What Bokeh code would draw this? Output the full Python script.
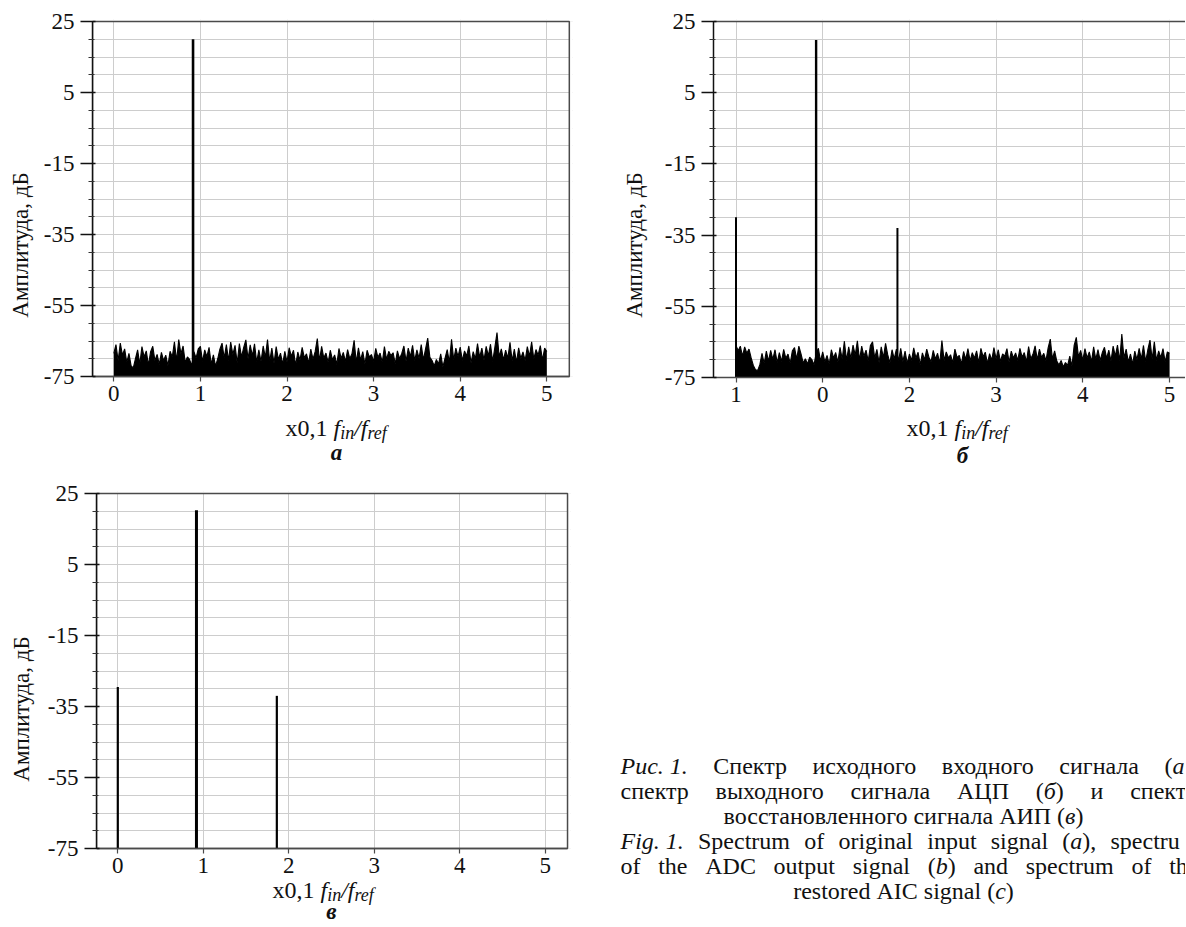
import os, glob
from bokeh.plotting import figure
from bokeh.layouts import row, column
from bokeh.models import Range1d, FixedTicker, Label, ColumnDataSource
from bokeh.embed import file_html
from bokeh.resources import INLINE

FONT = "Liberation Serif"

# ---------------- data ----------------
y_ticks = [-75, -55, -35, -15, 5, 25]
y_tick_labels = ["-75", "-55", "-35", "-15", "5", "25"]
y_minor = [-70, -65, -60, -50, -45, -40, -30, -25, -20, -10, -5, 0, 10, 15, 20]
x_ticks = [0, 1, 2, 3, 4, 5]
x_labels_a = ["0", "1", "2", "3", "4", "5"]
x_labels_b = ["1", "0", "2", "3", "4", "5"]
x_labels_c = ["0", "1", "2", "3", "4", "5"]
y_label = "Амплитуда, дБ"
floor_db = -75
top_db = 25
noise_step = 0.025

noise_a = [
    -68.5, -66.0, -70.5, -65.6, -69.0, -67.2, -71.0, -68.5, -72.0, -72.6,
    -70.0, -67.5, -71.5, -66.6, -69.5, -67.8, -71.8, -68.0, -66.5, -70.5,
    -68.8, -71.6, -68.2, -70.5, -69.0, -71.9, -67.9, -69.5, -65.2, -70.6,
    -64.6, -68.6, -66.4, -71.0, -69.5, -70.2, -72.0, -68.0, -69.8, -67.2,
    -66.5, -70.8, -67.5, -69.4, -66.8, -71.5, -68.9, -72.1, -70.0, -67.3,
    -65.6, -69.8, -66.0, -70.5, -65.3, -68.8, -66.2, -71.2, -65.7, -69.5,
    -66.8, -64.7, -70.0, -66.1, -69.2, -65.8, -71.0, -67.5, -70.8, -66.4,
    -69.6, -64.6, -70.7, -67.0, -71.3, -66.6, -70.2, -68.4, -71.5, -67.9,
    -70.9, -66.9, -69.3, -67.6, -71.8, -68.1, -70.4, -66.8, -69.7, -68.6,
    -71.2, -67.3, -70.1, -68.0, -64.3, -70.6, -66.5, -69.8, -68.4, -71.0,
    -67.6, -70.3, -68.9, -71.6, -67.1, -69.9, -68.2, -70.8, -67.4, -70.0,
    -68.6, -64.8, -71.0, -66.9, -70.4, -68.0, -71.5, -67.6, -69.5, -68.8,
    -70.8, -67.1, -69.6, -68.4, -71.0, -66.6, -70.2, -67.9, -69.1, -68.3,
    -71.4, -67.8, -70.0, -68.5, -66.4, -70.7, -67.0, -69.4, -66.2, -70.5,
    -67.5, -69.9, -66.0, -70.3, -67.2, -64.2, -69.6, -70.5, -72.0, -70.2,
    -71.5, -68.6, -72.3, -69.8, -67.4, -71.0, -64.5, -70.3, -67.0, -69.4,
    -66.7, -70.5, -67.8, -69.2, -66.4, -71.2, -68.0, -70.0, -65.7, -69.6,
    -67.0, -70.4, -66.5, -69.2, -65.9, -70.8, -66.8, -62.6, -69.4, -67.2,
    -70.3, -67.6, -69.8, -65.4, -70.6, -67.3, -71.0, -66.9, -69.9, -68.1,
    -70.5, -66.6, -69.3, -65.2, -70.1, -67.4, -69.0, -66.3, -70.4, -67.0,
    -68.0,
]

noise_b = [
    -66.0, -67.5, -66.2, -69.0, -66.4, -68.2, -67.0, -69.5, -71.6, -72.8,
    -73.0, -71.4, -68.2, -71.0, -67.6, -70.4, -67.4, -69.9, -67.2, -70.8,
    -68.0, -70.5, -67.1, -69.6, -68.4, -71.0, -67.5, -66.6, -69.8, -66.2,
    -68.4, -70.9, -69.7, -71.2, -69.3, -70.0, -71.4, -68.2, -66.8, -70.4,
    -67.8, -70.6, -68.8, -71.3, -67.2, -69.5, -68.0, -70.7, -66.5, -69.8,
    -64.8, -70.2, -66.4, -69.6, -65.9, -68.7, -64.7, -70.1, -66.2, -69.0,
    -67.3, -70.4, -66.0, -65.0, -69.5, -67.1, -70.8, -66.4, -69.4, -65.4,
    -68.6, -70.9, -67.2, -69.8, -67.0, -70.3, -66.8, -70.5, -67.6, -71.0,
    -68.4, -70.2, -66.7, -69.5, -67.9, -71.4, -68.1, -70.0, -67.0, -69.3,
    -70.6, -67.4, -69.8, -68.2, -71.0, -64.6, -70.2, -67.8, -69.5, -68.6,
    -70.9, -67.0, -69.4, -68.8, -71.2, -67.7, -69.9, -66.9, -70.3, -68.0,
    -69.6, -67.5, -70.8, -66.8, -69.2, -67.9, -71.0, -68.3, -70.1, -66.6,
    -69.8, -67.2, -70.5, -68.4, -69.0, -66.9, -70.7, -67.6, -69.5, -68.1,
    -70.2, -66.8, -69.3, -68.0, -70.6, -66.3, -69.7, -68.5, -66.1, -70.0,
    -67.0, -69.4, -68.2, -70.3, -66.7, -64.2, -69.8, -67.5, -70.4, -71.5,
    -70.2, -72.0, -70.8, -71.6, -69.0, -71.8, -66.0, -63.7, -69.2, -67.4,
    -70.1, -66.9, -69.5, -67.8, -70.6, -66.4, -69.9, -67.2, -70.2, -68.0,
    -66.5, -69.6, -67.3, -70.4, -66.2, -69.0, -65.9, -70.3, -62.8, -69.5,
    -67.0, -70.6, -68.4, -71.2, -67.6, -70.0, -66.8, -69.8, -66.0, -70.5,
    -67.2, -64.5, -69.9, -65.0, -70.2, -67.5, -69.4, -66.9, -70.6, -67.8,
    -68.2,
]

peaks_a_x = [0.915]
peaks_a_y = [20.0]
peaks_b_x = [0.0, 0.924, 1.862]
peaks_b_y = [-30.0, 19.8, -33.0]
peaks_c_x = [0.0, 0.92, 1.86]
peaks_c_y = [-29.5, 20.3, -32.0]

caption_lines = [
    ["*Рис. 1.*", "Спектр", "исходного", "входного", "сигнала", "(*а*),"],
    ["спектр", "выходного", "сигнала", "АЦП", "(*б*)", "и", "спектр"],
    ["восстановленного", "сигнала", "АИП", "(*в*)"],
    ["*Fig. 1.*", "Spectrum", "of", "original", "input", "signal", "(*a*),", "spectrum"],
    ["of", "the", "ADC", "output", "signal", "(*b*)", "and", "spectrum", "of", "the"],
    ["restored", "AIC", "signal", "(*c*)"],
]
caption_visible_tail = ["(*а*", "спект", None, "spectru", "th", None]
caption_justified = [True, True, False, True, True, False]

# ---------------- layout parameters (pixels) ----------------
TICK_SIZE = 23
LABEL_SIZE = 23
TITLE_SIZE, SUB_SIZE = 24, 18
CAP_SIZE = 24
CAP_L, CAP_R, CAP_CENTER = 620, 1198, 903
CAP_BASE0, CAP_STEP = 765, 25

# ---------------- text measuring ----------------
_FONT_FILES = {"normal": "LiberationSerif-Regular.ttf", "italic": "LiberationSerif-Italic.ttf",
               "bold": "LiberationSerif-Bold.ttf", "bold italic": "LiberationSerif-BoldItalic.ttf"}
_font_cache = {}


def _font(style, size):
    key = (style, size)
    if key in _font_cache:
        return _font_cache[key]
    f = None
    try:
        from PIL import ImageFont
        for d in ("/usr/share/fonts", "/usr/local/share/fonts",
                  os.path.expanduser("~/.fonts"), os.path.expanduser("~/.local/share/fonts")):
            hits = glob.glob(os.path.join(d, "**", _FONT_FILES[style]), recursive=True)
            if hits:
                f = ImageFont.truetype(hits[0], size)
                break
    except Exception:
        f = None
    _font_cache[key] = f
    return f


def tw(text, size, style="normal"):
    f = _font(style, size)
    if f is not None:
        try:
            return f.getlength(text)
        except Exception:
            pass
    return 0.47 * size * len(text)


def lab(p, x, y, text, size, style="normal", align="left", color="#111111"):
    p.add_layout(Label(x=x, y=y, text=text, text_font=FONT, text_font_size=f"{size}px",
                       text_font_style=style, text_align=align, text_baseline="alphabetic",
                       text_color=color))


# ---------------- panels ----------------
GRID = "#cdcdcd"
EDGE = "#4a4a4a"
INK = "#111111"


class Geo:
    def __init__(self, fig_x, fig_y, width, height, fl, fr, ft, x_at0, unit, y_bot_px, ppd):
        self.fig_x, self.fig_y, self.width, self.height = fig_x, fig_y, width, height
        self.fl, self.fr, self.ft = fl, fr, ft
        self.fb = fig_y + height
        self.x_at0, self.unit, self.y_bot_px, self.ppd = x_at0, unit, y_bot_px, ppd
        self.x0 = (fl - x_at0) / unit
        self.x1 = (fr - x_at0) / unit
        self.y_top = floor_db + (y_bot_px - ft) / ppd
        self.y_bottom = floor_db - (self.fb - y_bot_px) / ppd

    def data(self, px, py):
        return (px - self.x_at0) / self.unit, floor_db + (self.y_bot_px - py) / self.ppd


def make_panel(g, tick_labels, ylab_standoff, box_right):
    p = figure(width=g.width, height=g.height,
               x_range=Range1d(g.x0, g.x1), y_range=Range1d(g.y_bottom, g.y_top),
               output_backend="svg", toolbar_location=None,
               min_border_left=g.fl - g.fig_x, min_border_right=g.fig_x + g.width - g.fr,
               min_border_top=g.ft - g.fig_y, min_border_bottom=0)
    p.background_fill_color = "white"
    p.border_fill_color = "white"
    p.outline_line_color = None

    ya = p.yaxis[0]
    ya.ticker = FixedTicker(ticks=y_ticks, minor_ticks=y_minor)
    ya.major_label_overrides = {t: l for t, l in zip(y_ticks, y_tick_labels)}
    ya.bounds = (floor_db, top_db)
    ya.axis_line_color = INK
    ya.axis_line_width = 1.5
    ya.major_tick_out = 12
    ya.major_tick_in = 3
    ya.major_tick_line_color = INK
    ya.major_tick_line_width = 1.5
    ya.minor_tick_out = 4
    ya.minor_tick_in = 2
    ya.minor_tick_line_color = "#333333"
    ya.minor_tick_line_width = 1.2
    ya.major_label_text_font = FONT
    ya.major_label_text_font_size = f"{TICK_SIZE}px"
    ya.major_label_text_color = INK
    ya.major_label_standoff = 6
    ya.axis_label = y_label
    ya.axis_label_text_font = FONT
    ya.axis_label_text_font_size = f"{LABEL_SIZE}px"
    ya.axis_label_text_font_style = "normal"
    ya.axis_label_text_color = INK
    ya.axis_label_standoff = ylab_standoff

    xa = p.xaxis[0]
    xa.fixed_location = floor_db
    xa.ticker = FixedTicker(ticks=x_ticks)
    xa.major_label_overrides = {t: l for t, l in zip(x_ticks, tick_labels)}
    xa.bounds = (g.x0, box_right if box_right is not None else g.x1)
    xa.axis_line_color = EDGE
    xa.axis_line_width = 1.5
    xa.major_tick_out = 5
    xa.major_tick_in = 0
    xa.major_tick_line_color = EDGE
    xa.major_tick_line_width = 1.2
    xa.minor_tick_line_color = None
    xa.major_label_text_font = FONT
    xa.major_label_text_font_size = f"{TICK_SIZE}px"
    xa.major_label_text_color = INK
    xa.major_label_standoff = 4

    p.xgrid.ticker = FixedTicker(ticks=x_ticks)
    p.ygrid.ticker = FixedTicker(ticks=y_ticks, minor_ticks=y_minor)
    for gr in (p.xgrid[0], p.ygrid[0]):
        gr.grid_line_color = GRID
        gr.grid_line_width = 1
    p.ygrid[0].minor_grid_line_color = GRID
    p.ygrid[0].minor_grid_line_width = 1

    # white bands outside the plotting box (frame is extended to host the x title)
    p.quad(left=[g.x0], right=[g.x1], bottom=[g.y_bottom], top=[floor_db],
           fill_color="white", line_color=None)
    p.quad(left=[g.x0], right=[g.x1], bottom=[top_db], top=[g.y_top],
           fill_color="white", line_color=None)
    if box_right is not None:
        p.quad(left=[box_right], right=[g.x1], bottom=[floor_db], top=[top_db],
               fill_color="white", line_color=None)
        p.quad(left=[g.x0], right=[box_right], bottom=[floor_db], top=[top_db],
               fill_color=None, line_color=EDGE, line_width=1.5)
    else:
        p.segment(x0=[g.x0], y0=[top_db], x1=[g.x1], y1=[top_db], line_color=EDGE, line_width=1.5)
    return p


def x_axis_title(p, g, start_px, base_py, letter, letter_cx, letter_py):
    pieces = [("x0,1 ", TITLE_SIZE, "normal", 0), ("f", TITLE_SIZE, "italic", 0),
              ("in", SUB_SIZE, "italic", 5), ("/", TITLE_SIZE, "italic", 0),
              ("f", TITLE_SIZE, "italic", 0), ("ref", SUB_SIZE, "italic", 5)]
    cx = start_px
    for text, size, style, dy in pieces:
        x, y = g.data(cx, base_py + dy)
        lab(p, x, y, text.strip(), size, style)
        cx += tw(text, size, style)
    x, y = g.data(letter_cx, letter_py)
    lab(p, x, y, letter, LABEL_SIZE, "bold italic", align="center")


def add_noise(p, noise):
    xs = [i * noise_step for i in range(len(noise))]
    src = ColumnDataSource(dict(x=xs, y=noise, f=[floor_db] * len(noise)))
    p.varea(x="x", y1="f", y2="y", source=src, fill_color="black")
    p.line(x="x", y="y", source=src, line_color="black", line_width=1.1)


def add_peaks(p, px, py, widths):
    src = ColumnDataSource(dict(x=px, y=py, f=[floor_db] * len(px), w=widths))
    p.segment(x0="x", y0="f", x1="x", y1="y", source=src, line_color="black", line_width="w")


# panel a
ga = Geo(0, 0, 600, 470, fl=92, fr=572, ft=19, x_at0=113.3, unit=86.6, y_bot_px=376, ppd=3.55)
pa = make_panel(ga, x_labels_a, 8, 5.26)
add_noise(pa, noise_a)
add_peaks(pa, peaks_a_x, peaks_a_y, [2.6])
x_axis_title(pa, ga, 285, 427, "а", 336, 452)

# panel b
gb = Geo(600, 0, 585, 470, fl=713, fr=1185, ft=19, x_at0=735.5, unit=86.7, y_bot_px=377, ppd=3.56)
pb = make_panel(gb, x_labels_b, 15, None)
add_noise(pb, noise_b)
add_peaks(pb, peaks_b_x, peaks_b_y, [2.0, 2.4, 2.0])
x_axis_title(pb, gb, 906, 427, "б", 962, 455)

# panel c
gc = Geo(0, 470, 600, 456, fl=96, fr=570, ft=491, x_at0=117.3, unit=85.5, y_bot_px=848, ppd=3.55)
pc = make_panel(gc, x_labels_c, 11, 5.26)
add_peaks(pc, peaks_c_x, peaks_c_y, [2.2, 3.0, 2.2])
x_axis_title(pc, gc, 272, 889, "в", 331, 911)

# caption (frame shares the vertical extent of panel c's frame)
cap = figure(width=585, height=456, x_range=Range1d(600, 1185), y_range=Range1d(926, 491),
             output_backend="svg", toolbar_location=None, x_axis_location=None, y_axis_location=None,
             min_border_left=0, min_border_right=0, min_border_top=21, min_border_bottom=0)
cap.outline_line_color = None
cap.grid.visible = False
cap.background_fill_color = "white"
cap.border_fill_color = "white"


def parse(word):
    segs = []
    italic = False
    for part in word.split("*"):
        if part:
            segs.append((part, "italic" if italic else "normal"))
        italic = not italic
    return segs


def word_width(word):
    return sum(tw(t, CAP_SIZE, s) for t, s in parse(word))


space_w = tw(" ", CAP_SIZE)
for li, words in enumerate(caption_lines):
    base = CAP_BASE0 + li * CAP_STEP
    widths = [word_width(w) for w in words]
    if caption_justified[li]:
        x = CAP_L
        gap = max(space_w, (CAP_R - CAP_L - sum(widths)) / (len(words) - 1))
    else:
        gap = space_w
        x = CAP_CENTER - (sum(widths) + gap * (len(words) - 1)) / 2.0
    for wi, w in enumerate(words):
        shown = w
        if caption_visible_tail[li] is not None and wi == len(words) - 1:
            shown = caption_visible_tail[li]
        cx = x
        for t, s in parse(shown):
            lab(cap, cx, base, t, CAP_SIZE, s)
            cx += tw(t, CAP_SIZE, s)
        x += widths[wi] + gap

layout = column(row(pa, pb), row(pc, cap))
open("out.html", "w").write(file_html(layout, INLINE))
